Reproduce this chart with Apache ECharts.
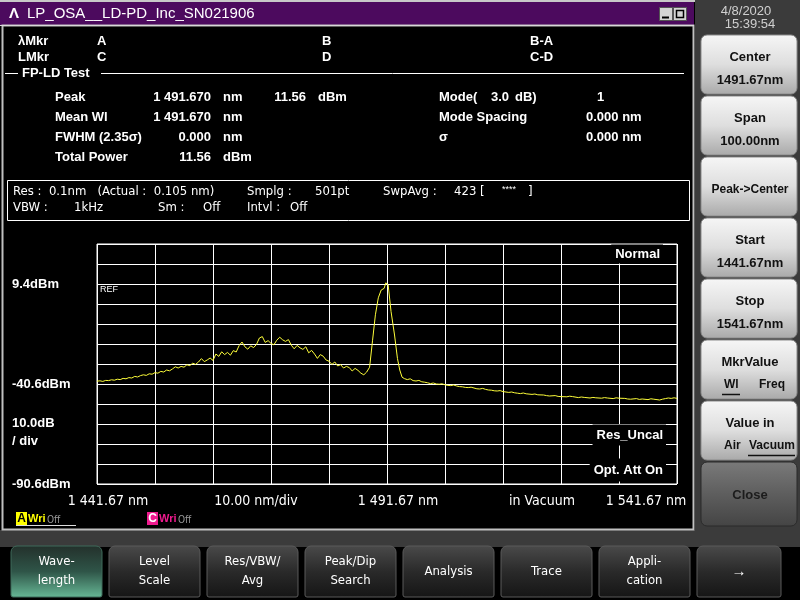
<!DOCTYPE html>
<html><head><meta charset="utf-8">
<script src="https://cdn.jsdelivr.net/npm/echarts@6/dist/echarts.min.js"></script>
<style>html,body{margin:0;padding:0;background:#000;}#c{width:800px;height:600px;}</style>
</head><body><div id="c"></div>
<script>
// ---- data ----
const startNm = 1441.67;
const stopNm = 1541.67;
const wlFromStartNm = [
 0,0.5,1,1.5,2,2.5,3,3.5,4,4.5,5,5.5,6,6.5,7,7.5,8,8.5,9,9.5,
 10,10.5,11,11.5,12,12.5,13,13.5,14,14.5,15,15.5,16,16.5,17,17.5,18,18.5,19,19.5,
 20,20.5,21,21.5,22,22.5,23,23.5,24,24.5,25,25.5,26,26.5,27,27.5,28,28.5,29,29.5,
 30,30.5,31,31.5,32,32.5,33,33.5,34,34.5,35,35.5,36,36.5,37,37.5,38,38.5,39,39.5,
 40,40.5,41,41.5,42,42.5,43,43.5,44,44.5,45,45.5,46,46.5,47,
 47.5,48,48.5,49,49.5,49.8,50,50.2,50.7,51.3,51.8,52.2,52.6,53,
 53.5,54,54.5,55,55.5,56,56.5,57,57.5,58,58.5,59,59.5,60,60.5,61,61.5,62,62.5,63,63.5,64,64.5,65,65.5,66,66.5,67,67.5,68,68.5,69,69.5,70,
 71,71.5,72,72.5,73,73.5,74,75,75.5,76,77,77.5,78,79,79.5,80,81,81.5,82,83,83.5,84,85,85.5,86,87,87.5,88,89,89.5,90,
 91,91.5,92,93,93.5,94,95,95.5,96,97,97.5,98,98.5,99,99.5,100
];
const powerDbm = [
 -39.2,-39.0,-39.3,-38.8,-38.9,-38.5,-38.7,-38.2,-38.4,-37.8,-38.0,-37.4,-37.6,-36.8,-37.1,-36.4,-36.0,-36.3,-35.5,-35.7,
 -34.9,-35.2,-34.3,-34.6,-33.6,-34.0,-33.1,-32.0,-32.6,-31.8,-32.2,-31.0,-31.4,-30.2,-30.8,-29.6,-27.9,-29.4,-28.6,-27.6,
 -28.8,-25.6,-26.8,-24.5,-25.9,-24.8,-26.2,-23.9,-24.6,-21.4,-19.6,-22.0,-23.2,-21.5,-22.4,-20.8,-17.6,-16.9,-19.8,-18.9,
 -20.3,-21.0,-18.7,-17.2,-18.5,-19.3,-18.4,-21.2,-23.0,-21.3,-22.5,-23.3,-22.0,-25.0,-23.8,-25.6,-27.8,-25.9,-26.7,-28.6,
 -29.2,-30.8,-29.6,-31.6,-30.9,-32.6,-31.8,-32.4,-34.1,-32.8,-33.8,-35.2,-36.0,-34.6,-32.2,
 -19.0,-6.0,2.5,6.4,7.2,10.0,11.0,8.9,-4.4,-16.1,-27.8,-33.6,-37.2,-37.9,
 -38.4,-38.0,-38.9,-39.1,-38.8,-39.5,-39.7,-40.0,-40.4,-40.1,-40.6,-40.7,-40.5,-41.0,-41.3,-41.4,-41.1,-41.6,-41.9,-42.0,-42.3,-42.4,-42.2,-42.6,-43.0,-43.1,-42.8,-43.3,-43.6,-43.7,-44.0,-44.1,-43.9,-44.4,
 -44.8,-44.6,-45.0,-45.2,-45.4,-45.1,-45.5,-45.8,-45.6,-46.0,-46.1,-46.4,-46.6,-46.4,-46.8,-46.9,-47.0,-46.7,-46.9,-47.4,-47.1,-47.3,-47.6,-47.3,-47.5,-47.7,-47.4,-47.6,-47.9,-47.5,-47.7,
 -47.8,-48.1,-48.2,-47.9,-48.3,-48.1,-48.4,-48.0,-48.2,-48.6,-48.2,-47.9,-47.6,-47.8,-47.5,-47.8
];
const bottomDbm = -90.6;
const dbPerDiv = 10;
const yDivs = 12;
const nmPerDiv = 10;
const xTickLabels = ['1 441.67 nm','10.00 nm/div','1 491.67 nm','in Vacuum','1 541.67 nm'];
const yTickLabels = ['9.4dBm','-40.6dBm','10.0dB','/ div','-90.6dBm'];
const titleText = 'LP_OSA__LD-PD_Inc_SN021906';
const sideButtons = [['Center','1491.67nm'],['Span','100.00nm'],['Peak->Center',''],['Start','1441.67nm'],['Stop','1541.67nm'],['MkrValue','WL'],['Value in','AIR'],['Close','']];
const bottomButtons = [['Wave-','length'],['Level','Scale'],['Res/VBW/','Avg'],['Peak/Dip','Search'],['Analysis',''],['Trace',''],['Appli-','cation'],['\u2192','']];

// ---- rendering ----
const F = '"Liberation Sans", Arial, sans-serif';
const FN = '"Liberation Sans Narrow", "DejaVu Sans Condensed", "Liberation Sans", sans-serif';
function T(text, x, y, o) {
  const st = Object.assign({text: text, fill: '#fff', font: 'bold 13px ' + F,
    textAlign: 'left', align: 'left', textVerticalAlign: 'middle', verticalAlign: 'middle'}, o || {});
  if (st.textAlign !== st.align) st.align = st.textAlign;
  return {type: 'text', x: x, y: y, z: 100, silent: true, style: st};
}
function R(x, y, w, h, style, r, z) {
  return {type: 'rect', z: z || 1, silent: true, shape: {x: x, y: y, width: w, height: h, r: r || 0}, style: style};
}
function grad(stops) {
  return {type: 'linear', x: 0, y: 0, x2: 0, y2: 1, colorStops: stops.map((c, i) => ({offset: i / (stops.length - 1), color: c}))};
}
function L(x1, y1, x2, y2, color, w) {
  return {type: 'line', z: 5, silent: true, shape: {x1: x1, y1: y1, x2: x2, y2: y2}, style: {stroke: color || '#fff', lineWidth: w || 1}};
}

const g = [];
// frames & panels
g.push(R(695, 0, 105, 532, {fill: '#3b3b3b'}, 0, 0));
g.push(R(0, 530, 800, 17, {fill: '#3b3b3b'}, 0, 0));
g.push(R(0, 0, 695, 2, {fill: '#c8c8c8'}, 0, 0));
g.push(R(0, 2, 694, 23, {fill: '#4c0a5e'}, 0, 1));
g.push(L(0, 25.5, 694, 25.5, '#d8d8d8', 1));
g.push(R(2.5, 25.5, 691, 504, {fill: 'none', stroke: '#c0c0c0', lineWidth: 2}, 0, 2));
g.push(T('\u039B', 9, 14, {font: 'bold 15px ' + F}));
g.push(T(titleText, 27, 14, {font: '15px ' + F}));
g.push(R(659.5, 7.5, 13, 13, {fill: '#d4d4d4', stroke: '#555', lineWidth: 1}, 0, 3));
g.push(R(673.5, 7.5, 13, 13, {fill: '#d4d4d4', stroke: '#555', lineWidth: 1}, 0, 3));
g.push(L(662, 17.5, 669, 17.5, '#000', 2));
g.push(R(676.5, 10.5, 7, 7, {fill: 'none', stroke: '#000', lineWidth: 1.5}, 0, 6));
// date/time
g.push(T('4/8/2020', 746, 11, {font: '13px ' + F, fill: '#d0d0d0', textAlign: 'center'}));
g.push(T('15:39:54', 750, 24, {font: '13px ' + F, fill: '#d0d0d0', textAlign: 'center'}));

// marker header
g.push(T('\u03BBMkr', 18, 41));
g.push(T('LMkr', 18, 57));
g.push(T('A', 97, 41)); g.push(T('C', 97, 57));
g.push(T('B', 322, 41)); g.push(T('D', 322, 57));
g.push(T('B-A', 530, 41)); g.push(T('C-D', 530, 57));
g.push(L(5, 73.5, 18, 73.5, '#fff', 1));
g.push(T('FP-LD Test', 22, 73));
g.push(L(101, 73.5, 684, 73.5, '#fff', 1));
// results
g.push(T('Peak', 55, 97)); g.push(T('1 491.670', 211, 97, {textAlign: 'right'})); g.push(T('nm', 223, 97));
g.push(T('11.56', 306, 97, {textAlign: 'right'})); g.push(T('dBm', 318, 97));
g.push(T('Mean Wl', 55, 117)); g.push(T('1 491.670', 211, 117, {textAlign: 'right'})); g.push(T('nm', 223, 117));
g.push(T('FWHM (2.35\u03C3)', 55, 137)); g.push(T('0.000', 211, 137, {textAlign: 'right'})); g.push(T('nm', 223, 137));
g.push(T('Total Power', 55, 157)); g.push(T('11.56', 211, 157, {textAlign: 'right'})); g.push(T('dBm', 223, 157));
g.push(T('Mode(', 439, 97)); g.push(T('3.0', 491, 97)); g.push(T('dB)', 515, 97)); g.push(T('1', 597, 97));
g.push(T('Mode Spacing', 439, 117)); g.push(T('0.000 nm', 586, 117));
g.push(T('\u03C3', 439, 137)); g.push(T('0.000 nm', 586, 137));
// settings box
g.push(R(7.5, 180.5, 682, 40, {fill: 'none', stroke: '#fff', lineWidth: 1}, 0, 4));
const fb = '13px ' + FN;
g.push(T('Res :  0.1nm   (Actual :  0.105 nm)', 13, 192, {font: fb}));
g.push(T('Smplg :', 247, 192, {font: fb})); g.push(T('501pt', 315, 192, {font: fb}));
g.push(T('SwpAvg :', 383, 192, {font: fb})); g.push(T('423 [', 454, 192, {font: fb}));
g.push(T('****', 502, 190, {font: '9px ' + F})); g.push(T(']', 528, 192, {font: fb}));
g.push(T('VBW :', 13, 208, {font: fb})); g.push(T('1kHz', 74, 208, {font: fb}));
g.push(T('Sm :', 158, 208, {font: fb})); g.push(T('Off', 203, 208, {font: fb}));
g.push(T('Intvl :', 247, 208, {font: fb})); g.push(T('Off', 290, 208, {font: fb}));

// y labels
g.push(T(yTickLabels[0], 12, 284));
g.push(T(yTickLabels[1], 12, 384));
g.push(T(yTickLabels[2], 12, 423));
g.push(T(yTickLabels[3], 12, 441));
g.push(T(yTickLabels[4], 12, 484));
g.push(T('REF', 100, 290, {font: '9px ' + F}));
g.push(T('Normal', 663, 254, {textAlign: 'right', backgroundColor: '#000', padding: [3, 3, 3, 4]}));
g.push(T('Res_Uncal', 666, 435, {textAlign: 'right', backgroundColor: '#000', padding: [4, 3, 4, 4]}));
g.push(T('Opt. Att On', 666, 470, {textAlign: 'right', backgroundColor: '#000', padding: [5, 3, 5, 4]}));
// x labels
const xl = [108, 256, 398, 542, 646];
xTickLabels.forEach((t, i) => g.push(T(t, xl[i], 501, {textAlign: 'center', font: '14px ' + FN})));
// trace write status
g.push(R(16, 512, 11, 13, {fill: '#ffff00'}, 0, 6));
g.push(T('A', 21.5, 519, {fill: '#000', textAlign: 'center', font: 'bold 12px ' + F}));
g.push(T('Wri', 28, 519, {fill: '#ffff00', font: 'bold 11px ' + F}));
g.push(T('Off', 47, 520, {fill: '#999', font: '10px ' + FN}));
g.push(L(16, 525.5, 76, 525.5, '#ddd', 1));
g.push(R(147, 512, 11, 13, {fill: '#ee1a8e'}, 0, 6));
g.push(T('C', 152.5, 519, {fill: '#fff', textAlign: 'center', font: 'bold 12px ' + F}));
g.push(T('Wri', 159, 519, {fill: '#ee1a8e', font: 'bold 11px ' + F}));
g.push(T('Off', 178, 520, {fill: '#999', font: '10px ' + FN}));

// side buttons
sideButtons.forEach((b, i) => {
  const top = 35 + i * 61;
  const isClose = b[0] === 'Close';
  const h = isClose ? 64 : 59;
  g.push(R(701, top, 96, h, {fill: isClose ? grad(['#7a7a7a', '#5e5e5e', '#444']) : grad(['#f6f6f6', '#dedede', '#a9a9a9']),
    stroke: isClose ? '#2a2a2a' : '#8a8a8a', lineWidth: 1}, 6, 2));
  const col = isClose ? '#1c1c1c' : '#111';
  const bf = 'bold 13px ' + F;
  const bs = 'bold 12px ' + F;
  if (b[1] === '' ) {
    g.push(T(b[0], 750, top + 33, {fill: col, textAlign: 'center', font: b[0] === 'Peak->Center' ? bs : bf}));
  } else {
    g.push(T(b[0], 750, top + 22, {fill: col, textAlign: 'center', font: bf}));
    if (b[1] === 'WL') {
      g.push(T('Wl', 724, top + 45, {fill: col, font: bs}));
      g.push(T('Freq', 759, top + 45, {fill: col, font: bs}));
      g.push(L(722, top + 54.5, 740, top + 54.5, '#111', 1.5));
    } else if (b[1] === 'AIR') {
      g.push(T('Air', 724, top + 45, {fill: col, font: bs}));
      g.push(T('Vacuum', 749, top + 45, {fill: col, font: bs}));
      g.push(L(748, top + 54.5, 795, top + 54.5, '#111', 1.5));
    } else {
      g.push(T(b[1], 750, top + 45, {fill: col, textAlign: 'center', font: bf}));
    }
  }
});

// bottom buttons
bottomButtons.forEach((b, i) => {
  const left = 11 + i * 98;
  const w = i === 7 ? 84 : 91;
  const sel = i === 0;
  g.push(R(left, 546, w, 51, {fill: sel ? grad(['#23302b', '#2f5548', '#67b896']) : grad(['#4a4a4a', '#2a2a2a', '#151515']),
    stroke: sel ? '#3f6a5a' : '#5a5a5a', lineWidth: 1}, [6, 6, 2, 2], 2));
  const cx = left + w / 2;
  const ft = '13px ' + FN;
  if (b[1] === '') {
    g.push(T(b[0], cx, 572, {textAlign: 'center', font: i === 7 ? 'bold 15px ' + F : ft}));
  } else {
    g.push(T(b[0], cx, 562, {textAlign: 'center', font: ft}));
    g.push(T(b[1], cx, 581, {textAlign: 'center', font: ft}));
  }
});

const traceData = wlFromStartNm.map((w, i) => [w, powerDbm[i] - bottomDbm]);

const chart = echarts.init(document.getElementById('c'), null, {renderer: 'canvas'});
chart.setOption({
  backgroundColor: '#000',
  animation: false,
  grid: {left: 97, top: 244, width: 580, height: 240, show: true, borderColor: '#fff', borderWidth: 1, backgroundColor: 'transparent'},
  xAxis: {type: 'value', min: 0, max: stopNm - startNm, interval: nmPerDiv,
    axisLabel: {show: false}, axisTick: {show: false}, axisLine: {show: false},
    splitLine: {show: true, lineStyle: {color: '#fff', width: 1}}},
  yAxis: {type: 'value', min: 0, max: yDivs * dbPerDiv, interval: dbPerDiv,
    axisLabel: {show: false}, axisTick: {show: false}, axisLine: {show: false},
    splitLine: {show: true, lineStyle: {color: '#fff', width: 1}}},
  series: [{type: 'line', data: traceData, showSymbol: false, symbol: 'none', z: 3,
    lineStyle: {color: '#ffff3a', width: 1}, itemStyle: {color: '#ffff3a'}}],
  graphic: {elements: g}
});
</script></body></html>
